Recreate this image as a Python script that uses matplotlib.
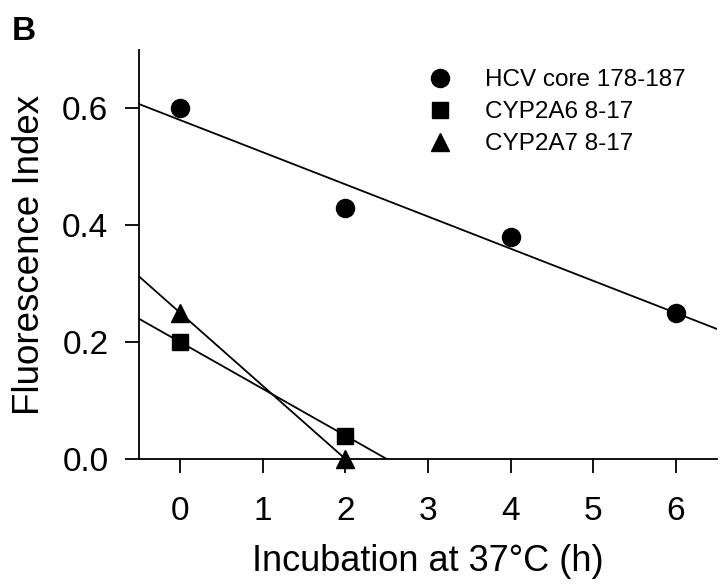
import numpy as np
import matplotlib
matplotlib.use("Agg")
import matplotlib.pyplot as plt

plt.rcParams['font.family'] = ['Liberation Sans', 'DejaVu Sans']

# data
hours_hcv = [0, 2, 4, 6]
fi_hcv = [0.60, 0.43, 0.38, 0.25]
hours_2a6 = [0, 2]
fi_2a6 = [0.20, 0.04]
hours_2a7 = [0, 2]
fi_2a7 = [0.25, 0.0]
labels = ['HCV core 178-187', 'CYP2A6 8-17', 'CYP2A7 8-17']

fig = plt.figure(figsize=(7.2, 5.85), dpi=100)
ax = fig.add_axes([139 / 720, 1 - 459 / 585, 578 / 720, 409 / 585])

xfit = np.array([-0.5, 6.5])
series = [(hours_hcv, fi_hcv, 'o', 13), (hours_2a6, fi_2a6, 's', 11.5), (hours_2a7, fi_2a7, '^', 12.5)]
handles = []
for (x, y, m, ms), lab in zip(series, labels):
    # linear regression line through each series
    k, b = np.polyfit(x, y, 1)
    ax.plot(xfit, k * xfit + b, color='black', lw=1.3, zorder=2)
    h, = ax.plot(x, y, linestyle='none', marker=m, markersize=ms, color='black',
                 zorder=3, label=lab, clip_on=False)
    handles.append(h)

ax.set_xlim(-0.5, 6.5)
ax.set_ylim(0, 0.7)
ax.set_xticks(range(0, 7))
ax.set_yticks([0.0, 0.2, 0.4, 0.6])
ax.set_yticklabels(['0.0', '0.2', '0.4', '0.6'])
for s in ['top', 'right']:
    ax.spines[s].set_visible(False)
for s in ['left', 'bottom']:
    ax.spines[s].set_linewidth(1.3)
ax.tick_params(axis='both', direction='out', length=10, width=1.3, labelsize=24)
ax.tick_params(axis='x', pad=17)
ax.tick_params(axis='y', pad=12)

ax.set_xlabel('Incubation at 37°C (h)', fontsize=26, labelpad=12)
ax.set_ylabel('Fluorescence Index', fontsize=26.5, labelpad=11)

ax.legend(handles=handles, loc='upper left', bbox_to_anchor=(0.4765, 0.953),
          frameon=False, fontsize=17.5, handlelength=2.1, handletextpad=0.8,
          borderpad=0, borderaxespad=0, labelspacing=0.41, numpoints=1)

fig.text(12 / 720, 1 - 40 / 585, 'B', fontsize=24, fontweight='bold')

fig.savefig('out.png', dpi=100)
